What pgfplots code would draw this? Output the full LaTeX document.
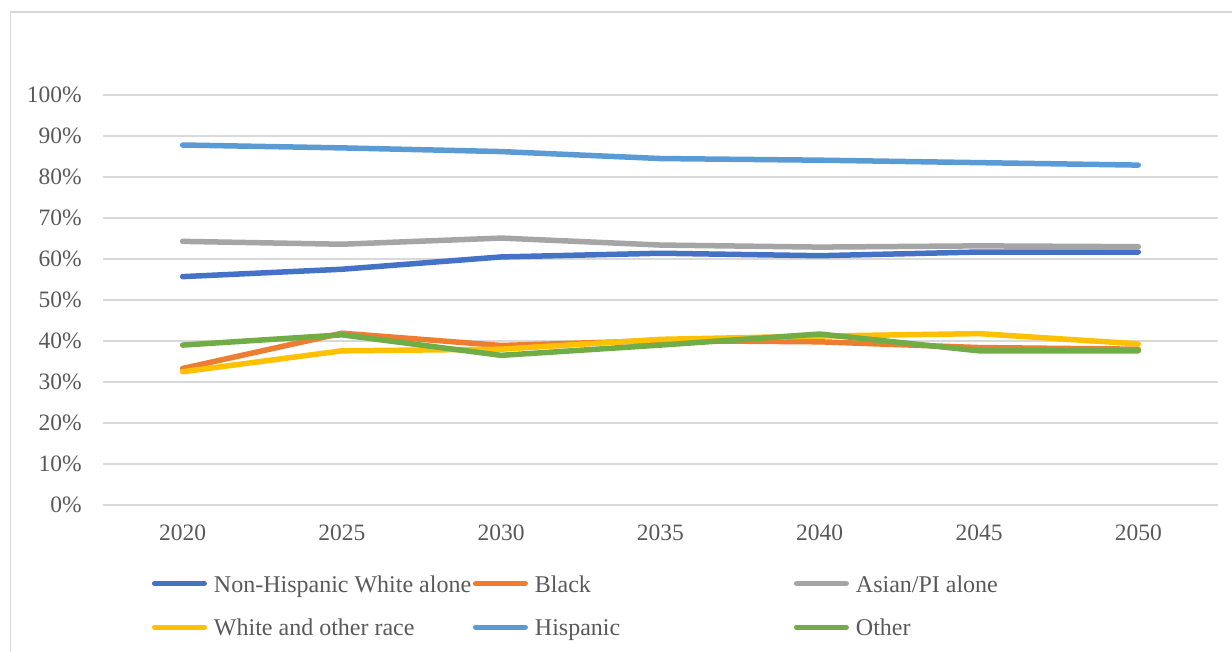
\documentclass[border=0pt]{standalone}
\usepackage{pgfplots}
\pgfplotsset{compat=1.18}
\usepackage{fontspec}
\setmainfont{Liberation Serif}

\definecolor{cNHW}{HTML}{4472C4}
\definecolor{cBlack}{HTML}{ED7D31}
\definecolor{cAsian}{HTML}{A5A5A5}
\definecolor{cWO}{HTML}{FFC000}
\definecolor{cHisp}{HTML}{5B9BD5}
\definecolor{cOther}{HTML}{70AD47}
\definecolor{gridgray}{HTML}{D9D9D9}
\definecolor{textgray}{HTML}{595959}

\newcommand{\lgtext}[1]{\makebox[259pt][l]{\strut #1}}

\begin{document}
\begin{tikzpicture}[x=1pt,y=1pt]
\useasboundingbox (0,0) rectangle (1232,652);
% chart area frame
\draw[color=gridgray, line width=1.3pt] (10.5,-20) rectangle (1260,640);
\begin{axis}[
  at={(103pt,147pt)}, anchor=south west,
  scale only axis, width=1115pt, height=410pt,
  xmin=-0.5, xmax=6.5, ymin=0, ymax=100,
  xtick={0,1,2,3,4,5,6},
  xticklabels={2020,2025,2030,2035,2040,2045,2050},
  ytick={0,10,...,100},
  yticklabel={\pgfmathprintnumber{\tick}\%},
  /pgf/number format/assume math mode=true,
  ymajorgrids,
  major grid style={color=gridgray, line width=1.5pt},
  axis line style={draw=none},
  tick style={draw=none},
  ticklabel style={font=\fontsize{23.5}{27}\selectfont, text=textgray, inner sep=0pt},
  yticklabel style={anchor=east, xshift=-21pt},
  xticklabel style={anchor=north, yshift=-20pt},
  legend columns=3,
  legend cell align=left,
  legend style={
    at={(0.0439,-0.167)}, anchor=north west,
    draw=none, fill=none, inner sep=0pt, outer sep=0pt,
    font=\fontsize{24}{27}\selectfont, text=textgray,
    nodes={inner sep=0pt},
    row sep=23pt,
    /tikz/every odd column/.style={column sep=7pt},
    /tikz/every even column/.style={column sep=0pt},
  },
  legend image code/.code={
    \draw[#1, line width=5pt, line cap=round] (0pt,0pt) -- (50pt,0pt);
  },
  every axis plot/.append style={line width=5.5pt, line cap=round, line join=round},
]
\addplot[cNHW] coordinates {(0,55.7) (1,57.5) (2,60.5) (3,61.4) (4,60.8) (5,61.7) (6,61.7)};
\addlegendentry{\lgtext{Non-Hispanic White alone}}
\addplot[cBlack] coordinates {(0,33.3) (1,41.9) (2,38.9) (3,40.1) (4,39.8) (5,38.4) (6,38.0)};
\addlegendentry{\lgtext{Black}}
\addplot[cAsian] coordinates {(0,64.3) (1,63.6) (2,65.1) (3,63.4) (4,62.9) (5,63.2) (6,63.0)};
\addlegendentry{\strut Asian/PI alone}
\addplot[cWO] coordinates {(0,32.5) (1,37.6) (2,38.0) (3,40.4) (4,41.2) (5,41.8) (6,39.3)};
\addlegendentry{\lgtext{White and other race}}
\addplot[cHisp] coordinates {(0,87.8) (1,87.1) (2,86.2) (3,84.5) (4,84.1) (5,83.5) (6,82.9)};
\addlegendentry{\lgtext{Hispanic}}
\addplot[cOther] coordinates {(0,39.0) (1,41.5) (2,36.5) (3,39.0) (4,41.7) (5,37.6) (6,37.6)};
\addlegendentry{\strut Other}
\end{axis}
\end{tikzpicture}
\end{document}
